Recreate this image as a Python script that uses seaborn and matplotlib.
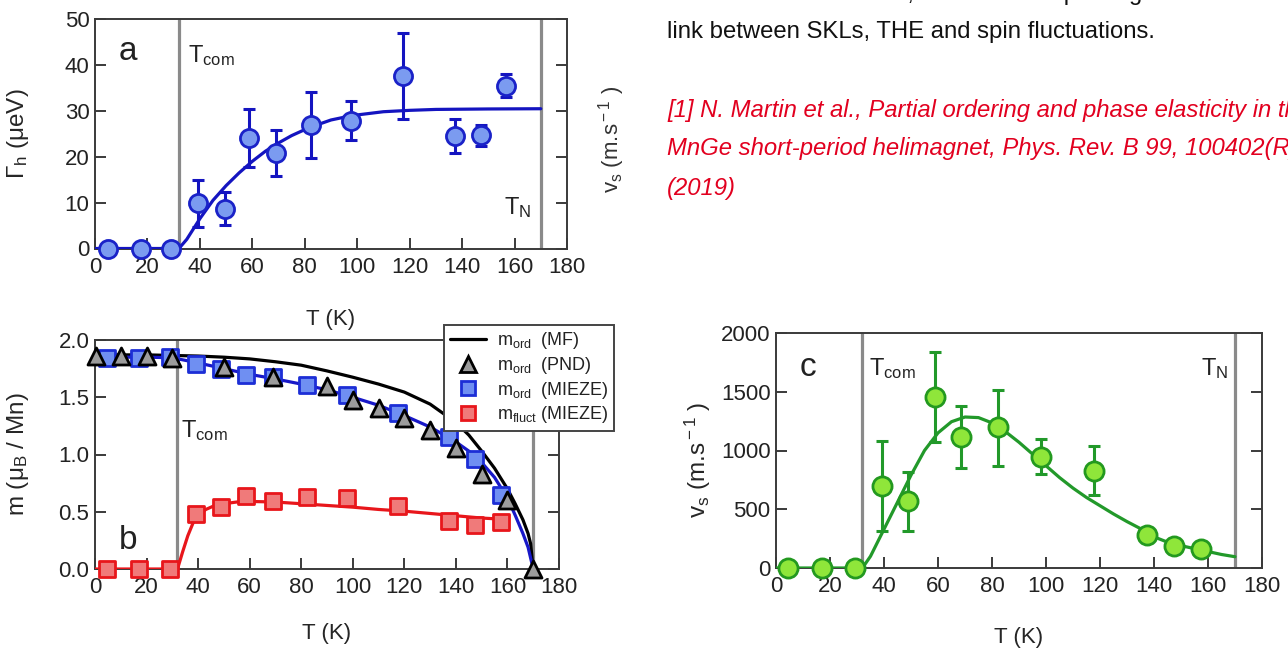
import matplotlib
matplotlib.use("Agg")
import matplotlib.pyplot as plt
import seaborn as sns
from matplotlib.lines import Line2D
from matplotlib.ticker import FormatStrFormatter

# ---------------- data ----------------
# panel a : damping Gamma_h
T_a = [5, 17.5, 29, 39.3, 49.5, 58.9, 68.9, 82.4, 97.7, 117.6, 137.1, 147.1, 156.9]
G_a = [0, 0, 0, 9.9, 8.6, 24.1, 20.8, 26.8, 27.7, 37.6, 24.5, 24.7, 35.5]
G_a_lo = [0, 0, 0, 4.7, 5.1, 17.8, 15.8, 19.7, 23.6, 28.3, 20.8, 22.3, 33.0]
G_a_hi = [0, 0, 0, 14.9, 12.3, 30.5, 25.8, 34.1, 32.1, 46.9, 28.2, 27.0, 38.1]
fit_a_T = [0, 32, 35, 40, 45, 50, 55, 60, 65, 70, 75, 80, 85, 90, 95, 100, 110, 120, 130, 150, 170]
fit_a_G = [0, 0, 2, 6.5, 10.5, 13.7, 16.5, 19, 21.2, 23, 24.6, 25.9, 27, 28, 28.6, 29.1, 29.8, 30.1, 30.3, 30.4, 30.45]

# panel b : moments
mf_T = [0, 20, 40, 50, 60, 70, 80, 90, 100, 110, 120, 130, 140, 145, 150, 155, 160, 163, 166, 168, 169, 170]
mf_m = [1.87, 1.87, 1.86, 1.85, 1.835, 1.81, 1.78, 1.73, 1.675, 1.615, 1.545, 1.44, 1.28, 1.17, 1.03, 0.88,
        0.70, 0.57, 0.43, 0.31, 0.22, 0.0]
pnd_T = [0.4, 10, 20, 30, 50, 69, 90, 100, 110, 120, 130, 140, 150, 160, 170]
pnd_m = [1.86, 1.86, 1.86, 1.84, 1.76, 1.675, 1.60, 1.48, 1.41, 1.32, 1.21, 1.056, 0.83, 0.60, 0.0]
mz_T = [4.5, 17.2, 29.2, 39.3, 48.9, 58.4, 69, 82.4, 97.8, 117.6, 137.5, 147.5, 157.6]
mord_m = [1.84, 1.84, 1.85, 1.79, 1.745, 1.695, 1.68, 1.61, 1.52, 1.36, 1.157, 0.96, 0.65]
mfl_m = [0, 0, 0, 0.48, 0.54, 0.64, 0.59, 0.63, 0.62, 0.546, 0.415, 0.387, 0.41]
ordfit_T = [0, 10, 20, 30, 40, 50, 60, 70, 80, 90, 100, 110, 120, 130, 140, 145, 150, 155, 160, 163, 166, 168, 170]
ordfit_m = [1.85, 1.85, 1.85, 1.845, 1.80, 1.75, 1.70, 1.66, 1.615, 1.565, 1.50, 1.43, 1.34, 1.24, 1.11, 1.03,
            0.93, 0.80, 0.62, 0.47, 0.31, 0.19, 0.0]
flfit_T = [0, 32, 34, 36, 38, 40, 43, 46, 50, 55, 60, 70, 80, 90, 100, 110, 120, 130, 140, 150, 158]
flfit_m = [0, 0, 0.15, 0.29, 0.40, 0.47, 0.52, 0.55, 0.57, 0.585, 0.59, 0.585, 0.57, 0.555, 0.54, 0.52,
           0.505, 0.485, 0.465, 0.445, 0.435]

# panel c : velocity v_s
T_c = [4.6, 17.2, 29.3, 39.1, 49, 58.9, 68.4, 82.3, 98.1, 117.9, 137.3, 147.4, 157.3]
v_c = [0, 0, 0, 700, 570, 1453, 1118, 1197, 947, 828, 281, 187, 159]
v_c_lo = [0, 0, 0, 317, 317, 1070, 848, 871, 800, 621, 281, 187, 159]
v_c_hi = [0, 0, 0, 1083, 820, 1836, 1379, 1515, 1095, 1038, 281, 187, 159]
fit_c_T = [0, 32, 35, 40, 45, 50, 55, 60, 65, 70, 75, 80, 85, 90, 95, 100, 105, 110, 115, 120, 125, 130,
           135, 140, 145, 150, 155, 160, 165, 170]
fit_c_v = [0, 0, 100, 330, 560, 790, 1000, 1150, 1245, 1285, 1280, 1235, 1160, 1070, 970, 870, 770, 680,
           600, 530, 460, 395, 335, 265, 220, 190, 165, 140, 115, 96]

T_com, T_N = 32, 170
x_ticks = list(range(0, 181, 20))

# ---------------- style ----------------
sns.set_theme(style="white")
plt.rcParams["font.family"] = ["Liberation Sans", "DejaVu Sans"]
plt.rcParams["mathtext.fontset"] = "custom"
plt.rcParams["mathtext.rm"] = "Liberation Sans"
plt.rcParams["mathtext.it"] = "Liberation Sans:italic"
plt.rcParams["mathtext.sf"] = "Liberation Sans"
plt.rcParams["text.color"] = "#222222"

W, H = 1288, 648
fig = plt.figure(figsize=(W / 100, H / 100), dpi=100)


def px_axes(l, t, r, b):
    return fig.add_axes([l / W, 1 - b / H, (r - l) / W, (b - t) / H])


def style(ax, ylim, yticks):
    ax.set_xlim(0, 180)
    ax.set_ylim(*ylim)
    ax.set_xticks(x_ticks)
    ax.set_yticks(yticks)
    for s in ax.spines.values():
        s.set_color("#3a3a3a")
        s.set_linewidth(1.4)
    ax.tick_params(axis="both", direction="in", length=8, width=1.4, color="#3a3a3a",
                   labelsize=16, labelcolor="#222222")
    ax.tick_params(axis="x", pad=6, top=False, bottom=True)
    ax.tick_params(axis="y", pad=4, left=True, right=True, labelright=False)
    ax.axvline(T_com, color="#8a8a8a", lw=2.3, zorder=1)
    ax.axvline(T_N, color="#8a8a8a", lw=2.3, zorder=1)
    ax.set_xlabel("T (K)", fontsize=16)


sub_kw = dict(fontsize=17)
ylab_size = 17.5

# ---------------- panel a ----------------
axa = px_axes(95, 19, 567, 248.5)
style(axa, (0, 50), [0, 10, 20, 30, 40, 50])
blue_line = "#1414c0"
sns.lineplot(x=fit_a_T, y=fit_a_G, ax=axa, color=blue_line, lw=2.3, zorder=3, legend=False)
err_lo = [g - l for g, l in zip(G_a, G_a_lo)]
err_hi = [h - g for g, h in zip(G_a, G_a_hi)]
axa.errorbar(T_a[3:], G_a[3:], yerr=[err_lo[3:], err_hi[3:]], fmt="none", ecolor=blue_line,
             elinewidth=2.2, capsize=4, capthick=2.2, zorder=4)
sns.scatterplot(x=T_a, y=G_a, ax=axa, marker="o", s=170, color="#7b9bf0", edgecolor="#1a22c8",
                linewidth=2.0, zorder=5, clip_on=False, legend=False)
axa.text(12.6, 43, "a", fontsize=24, ha="center", va="center")
axa.text(35.5, 42, r"T$_{\rm com}$", ha="left", va="center", **sub_kw)
axa.text(166.5, 9, r"T$_{\rm N}$", ha="right", va="center", **sub_kw)
axa.set_ylabel("Γ$_{\\rm h}$ (μeV)", fontsize=ylab_size)
axa.yaxis.set_label_coords(-0.136, 0.5)
axa.xaxis.set_label_coords(0.5, -0.265)

# ---------------- panel b ----------------
axb = px_axes(95, 340, 559, 569)
style(axb, (0, 2.0), [0, 0.5, 1.0, 1.5, 2.0])
axb.yaxis.set_major_formatter(FormatStrFormatter("%.1f"))
sns.lineplot(x=mf_T, y=mf_m, ax=axb, color="black", lw=2.3, zorder=3, legend=False)
sns.lineplot(x=ordfit_T, y=ordfit_m, ax=axb, color="#1818c8", lw=2.3, zorder=3, legend=False)
sns.lineplot(x=flfit_T, y=flfit_m, ax=axb, color="#e8161b", lw=2.3, zorder=3, legend=False)
sq_blue = dict(face="#6f8ff2", edge="#1c2ed6")
sq_red = dict(face="#f07a7a", edge="#e8161b")
sns.scatterplot(x=mz_T, y=mord_m, ax=axb, marker="s", s=120, color=sq_blue["face"],
                edgecolor=sq_blue["edge"], linewidth=2.0, zorder=5, clip_on=False, legend=False)
sns.scatterplot(x=mz_T, y=mfl_m, ax=axb, marker="s", s=120, color=sq_red["face"],
                edgecolor=sq_red["edge"], linewidth=2.0, zorder=5, clip_on=False, legend=False)
sns.scatterplot(x=pnd_T, y=pnd_m, ax=axb, marker="^", s=150, color="#9c9c9c", edgecolor="black",
                linewidth=2.0, zorder=6, clip_on=False, legend=False)
axb.text(12.8, 0.25, "b", fontsize=24, ha="center", va="center")
axb.text(33.5, 1.21, r"T$_{\rm com}$", ha="left", va="center", **sub_kw)
axb.set_ylabel("m (μ$_{\\rm B}$ / Mn)", fontsize=ylab_size)
axb.yaxis.set_label_coords(-0.138, 0.5)
axb.xaxis.set_label_coords(0.5, -0.235)

handles = [
    Line2D([0], [0], color="black", lw=2.3),
    Line2D([0], [0], marker="^", ls="none", markersize=11, markerfacecolor="#9c9c9c",
           markeredgecolor="black", markeredgewidth=2.0),
    Line2D([0], [0], marker="s", ls="none", markersize=10, markerfacecolor=sq_blue["face"],
           markeredgecolor=sq_blue["edge"], markeredgewidth=2.0),
    Line2D([0], [0], marker="s", ls="none", markersize=10, markerfacecolor=sq_red["face"],
           markeredgecolor=sq_red["edge"], markeredgewidth=2.0),
]
labels = [r"m$_{\rm ord}$  (MF)", r"m$_{\rm ord}$  (PND)", r"m$_{\rm ord}$  (MIEZE)",
          r"m$_{\rm fluct}$ (MIEZE)"]
leg = axb.legend(handles, labels, loc="upper right", bbox_to_anchor=(614 / W, 1 - 325 / H),
                 bbox_transform=fig.transFigure, fontsize=13, frameon=True, fancybox=False,
                 framealpha=1, edgecolor="#444444", handlelength=2.0, handletextpad=0.6,
                 labelspacing=0.2, borderpad=0.3, borderaxespad=0)
leg.get_frame().set_linewidth(1.4)
leg.set_zorder(10)

# ---------------- panel c ----------------
axc = px_axes(776, 333, 1262, 568)
style(axc, (0, 2000), [0, 500, 1000, 1500, 2000])
green_line = "#22992a"
sns.lineplot(x=fit_c_T, y=fit_c_v, ax=axc, color=green_line, lw=2.3, zorder=3, legend=False)
c_lo = [v - l for v, l in zip(v_c, v_c_lo)]
c_hi = [h - v for v, h in zip(v_c, v_c_hi)]
axc.errorbar(T_c[3:10], v_c[3:10], yerr=[c_lo[3:10], c_hi[3:10]], fmt="none", ecolor=green_line,
             elinewidth=2.2, capsize=4, capthick=2.2, zorder=4)
sns.scatterplot(x=T_c, y=v_c, ax=axc, marker="o", s=190, color="#8fe63a", edgecolor="#23991f",
                linewidth=2.0, zorder=5, clip_on=False, legend=False)
axc.text(11.9, 1710, "c", fontsize=24, ha="center", va="center")
axc.text(34.5, 1700, r"T$_{\rm com}$", ha="left", va="center", **sub_kw)
axc.text(167.5, 1700, r"T$_{\rm N}$", ha="right", va="center", **sub_kw)
axc.set_ylabel(r"v$_{\rm s}$ (m.s$^{\rm -1}$ )", fontsize=ylab_size)
axc.yaxis.set_label_coords(-0.13, 0.46)
axc.xaxis.set_label_coords(0.5, -0.25)

# ---------------- page text remnants ----------------
fig.text(612 / W, 1 - 139 / H, r"v$_{\rm s}$ (m.s$^{\rm -1}$ )", rotation=90, fontsize=16,
         ha="center", va="center", color="#333333")
body = "#111111"
red = "#e2001f"
page_size = 17.2
fig.text(667 / W, 1 - (-6) / H, "calls for further studies, devoted to improving the theoretical",
         fontsize=page_size, color=body, ha="left", va="center")
fig.text(667 / W, 1 - 32 / H, "link between SKLs, THE and spin fluctuations.",
         fontsize=page_size, color=body, ha="left", va="center")
fig.text(667 / W, 1 - 110 / H, "[1] N. Martin et al., Partial ordering and phase elasticity in the",
         fontsize=page_size, color=red, style="italic", ha="left", va="center")
fig.text(667 / W, 1 - 148 / H, "MnGe short-period helimagnet, Phys. Rev. B 99, 100402(R)",
         fontsize=page_size, color=red, style="italic", ha="left", va="center")
fig.text(667 / W, 1 - 188 / H, "(2019)", fontsize=page_size, color=red, style="italic",
         ha="left", va="center")

fig.savefig("out.png", dpi=100)
